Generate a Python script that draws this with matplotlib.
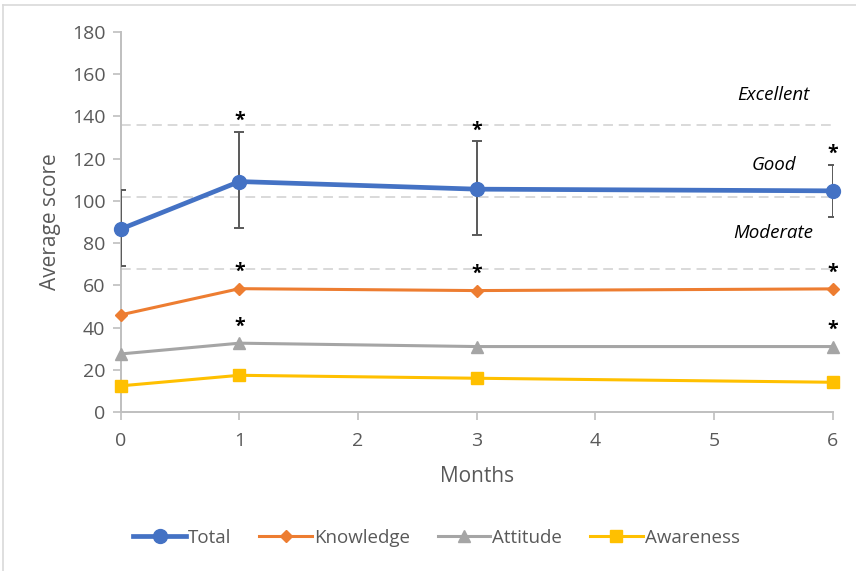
import matplotlib.pyplot as plt
from matplotlib.lines import Line2D

plt.rcParams['font.family'] = ['Open Sans', 'DejaVu Sans']

months = [0, 1, 3, 6]
total = [86.7, 109.2, 105.6, 104.8]
total_err_low = [17.4, 22.0, 21.8, 12.3]
total_err_high = [18.6, 23.3, 22.6, 12.2]
knowledge = [46.1, 58.5, 57.6, 58.4]
attitude = [27.6, 32.7, 31.1, 31.1]
awareness = [12.5, 17.5, 16.1, 14.2]

# cut-offs between score bands
thresholds = [136, 102, 68]
bands = ['Excellent', 'Good', 'Moderate']
band_y = [150, 117, 85]

# months with significant change, per series
stars_total = [1, 3, 6]
stars_knowledge = [1, 3, 6]
stars_attitude = [1, 6]

fig = plt.figure(figsize=(8.56, 5.71), dpi=100)
ax = fig.add_axes([0.141, 0.278, 0.832, 0.666])

for t in thresholds:
    ax.axhline(t, color='#d9d9d9', lw=1.4, ls=(0, (5, 3)), zorder=1)

ax.errorbar(months, total, yerr=[total_err_low, total_err_high], fmt='none',
            ecolor='#595959', elinewidth=1.4, capsize=3.5, capthick=1.4, zorder=3)

ax.plot(months, total, color='#4472C4', lw=3.4, marker='o', ms=10, zorder=6,
        label='Total', clip_on=False)
ax.plot(months, knowledge, color='#ED7D31', lw=2.2, marker='D', ms=6.5, zorder=5,
        label='Knowledge', clip_on=False)
ax.plot(months, attitude, color='#A5A5A5', lw=2.2, marker='^', ms=8.5, zorder=5,
        label='Attitude', clip_on=False)
ax.plot(months, awareness, color='#FFC000', lw=2.2, marker='s', ms=8, zorder=5,
        label='Awareness', clip_on=False)

# asterisks above the error bars / points
star_kw = dict(ha='center', va='bottom', fontsize=14, fontweight='bold', color='black')
for m in stars_total:
    i = months.index(m)
    ax.text(m, total[i] + total_err_high[i] + 0.5, '*', **star_kw)
for m in stars_knowledge:
    i = months.index(m)
    ax.text(m, knowledge[i] + 3, '*', **star_kw)
for m in stars_attitude:
    i = months.index(m)
    ax.text(m, attitude[i] + 3, '*', **star_kw)

for name, y in zip(bands, band_y):
    ax.text(5.5, y, name, ha='center', va='center', fontsize=13.5, style='italic', color='black')

ax.set_xlim(0, 6)
ax.set_ylim(0, 180)
ax.set_xticks(range(0, 7))
ax.set_yticks(range(0, 181, 20))
ax.tick_params(axis='both', colors='#bfbfbf', labelcolor='#595959', labelsize=14,
               length=6, width=1.2)
ax.tick_params(axis='x', pad=8)
ax.tick_params(axis='y', pad=5)
for side in ['top', 'right']:
    ax.spines[side].set_visible(False)
for side in ['left', 'bottom']:
    ax.spines[side].set_color('#bfbfbf')
    ax.spines[side].set_linewidth(1.4)

ax.set_xlabel('Months', fontsize=15, color='#595959', labelpad=12)
ax.set_ylabel('Average score', fontsize=15, color='#595959', labelpad=8)

leg = ax.legend(loc='center', bbox_to_anchor=(0.51, 0.058), bbox_transform=fig.transFigure,
                ncol=4, frameon=False, fontsize=13.5, handlelength=2.8, columnspacing=1.5,
                handletextpad=0.1, labelcolor='#595959')

# light frame around the chart area (top and left edges)
fig.add_artist(Line2D([0.004, 1.0], [0.991, 0.991], color='#d9d9d9', lw=1.2))
fig.add_artist(Line2D([0.004, 0.004], [0.0, 0.991], color='#d9d9d9', lw=1.2))

fig.savefig('out.png', dpi=100)
